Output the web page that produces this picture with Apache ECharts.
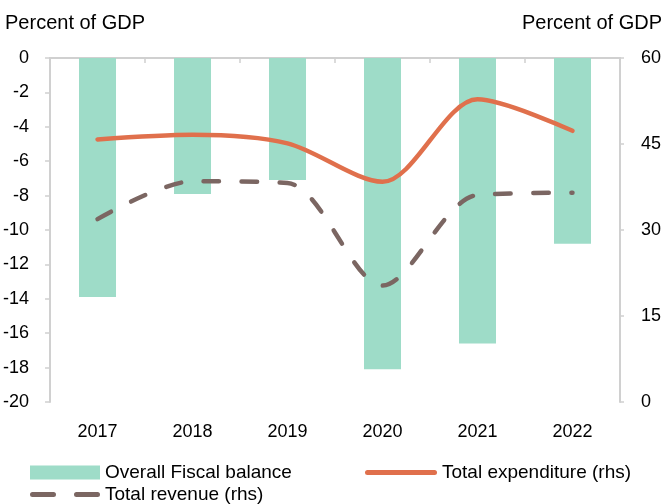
<!DOCTYPE html>
<html>
<head>
<meta charset="utf-8">
<script src="https://cdn.jsdelivr.net/npm/echarts@6/dist/echarts.min.js"></script>
<style>html,body{margin:0;padding:0;background:#fff;}#c{width:665px;height:504px;}</style>
</head>
<body>
<div id="c"></div>
<script>
var years = ['2017', '2018', '2019', '2020', '2021', '2022'];
var fiscalBalance = [-13.9, -7.9, -7.1, -18.1, -16.6, -10.8];
var totalExpenditure = [45.8, 46.6, 45.1, 38.4, 52.8, 47.3];
var totalRevenue = [31.9, 38.5, 38.2, 20.3, 36.1, 36.5];

var FONT = 'Liberation Sans';
var axisGray = '#d0d0d0';
var expIcon = 'path://M2.5,0 H69.5 A2.5,2.5 0 0 1 69.5,5 H2.5 A2.5,2.5 0 0 1 2.5,0 Z';
var revIcon = 'path://M2.5,0 H23.5 A2.5,2.5 0 0 1 23.5,5 H2.5 A2.5,2.5 0 0 1 2.5,0 Z M46.5,0 H67.5 A2.5,2.5 0 0 1 67.5,5 H46.5 A2.5,2.5 0 0 1 46.5,0 Z';
var chart = echarts.init(document.getElementById('c'), null, {renderer: 'canvas'});
chart.setOption({
  animation: false,
  textStyle: {fontFamily: FONT, color: '#000'},
  grid: {left: 46, right: 44, top: 58, bottom: 102, containLabel: false},
  xAxis: [
    {
      type: 'category', data: years, position: 'top',
      axisLine: {show: true, onZero: false, lineStyle: {color: axisGray, width: 2}},
      axisTick: {show: true, inside: true, length: 5, lineStyle: {color: axisGray, width: 1.5}},
      axisLabel: {show: false}
    },
    {
      type: 'category', data: years, position: 'bottom',
      axisLine: {show: false}, axisTick: {show: false},
      axisLabel: {show: true, fontSize: 18, color: '#000', fontFamily: FONT, margin: 21}
    }
  ],
  yAxis: [
    {
      type: 'value', min: -20, max: 0, interval: 2,
      name: 'Percent of GDP', nameLocation: 'end', nameGap: 25,
      nameTextStyle: {fontSize: 20, color: '#000', fontFamily: FONT, align: 'left', padding: [0, 0, 0, -45]},
      axisLine: {show: true, lineStyle: {color: axisGray, width: 2}},
      axisTick: {show: true, length: 5, lineStyle: {color: axisGray, width: 1.5}},
      axisLabel: {fontSize: 18, color: '#000', fontFamily: FONT, margin: 21},
      splitLine: {show: false}
    },
    {
      type: 'value', min: 0, max: 60, interval: 15, position: 'right',
      name: 'Percent of GDP', nameLocation: 'end', nameGap: 25,
      nameTextStyle: {fontSize: 20, color: '#000', fontFamily: FONT, align: 'right', padding: [0, -42, 0, 0]},
      axisLine: {show: true, lineStyle: {color: axisGray, width: 2}},
      axisTick: {show: true, length: 4, lineStyle: {color: axisGray, width: 1.5}},
      axisLabel: {fontSize: 18, color: '#000', fontFamily: FONT, margin: 21},
      splitLine: {show: false}
    }
  ],
  legend: [
    {
      left: 25, top: 458, itemWidth: 70, itemHeight: 14, itemGap: 0,
      data: [{name: 'Overall Fiscal balance', icon: 'rect'}],
      textStyle: {fontSize: 19, color: '#000', fontFamily: FONT}
    },
    {
      left: 360, top: 458, itemWidth: 72, itemHeight: 5,
      data: [{name: 'Total expenditure (rhs)', icon: expIcon}],
      textStyle: {fontSize: 19, color: '#000', fontFamily: FONT}
    },
    {
      left: 25, top: 480, itemWidth: 70, itemHeight: 5,
      data: [{name: 'Total revenue (rhs)', icon: revIcon}],
      textStyle: {fontSize: 19, color: '#000', fontFamily: FONT}
    }
  ],
  series: [
    {
      name: 'Overall Fiscal balance', type: 'bar', xAxisIndex: 0, yAxisIndex: 0,
      data: fiscalBalance, barWidth: 37,
      itemStyle: {color: '#9EDCC8'}
    },
    {
      name: 'Total expenditure (rhs)', type: 'line', xAxisIndex: 0, yAxisIndex: 1,
      data: totalExpenditure, smooth: 0.3, symbol: 'none',
      lineStyle: {color: '#E0704C', width: 4.5, cap: 'round'},
      itemStyle: {color: '#E0704C'}
    },
    {
      name: 'Total revenue (rhs)', type: 'line', xAxisIndex: 0, yAxisIndex: 1,
      data: totalRevenue, smooth: 0.3, symbol: 'none',
      lineStyle: {color: '#7B6662', width: 4.5, type: [15.5, 22.5], cap: 'round'},
      itemStyle: {color: '#7B6662'}
    }
  ]
});
</script>
</body>
</html>
